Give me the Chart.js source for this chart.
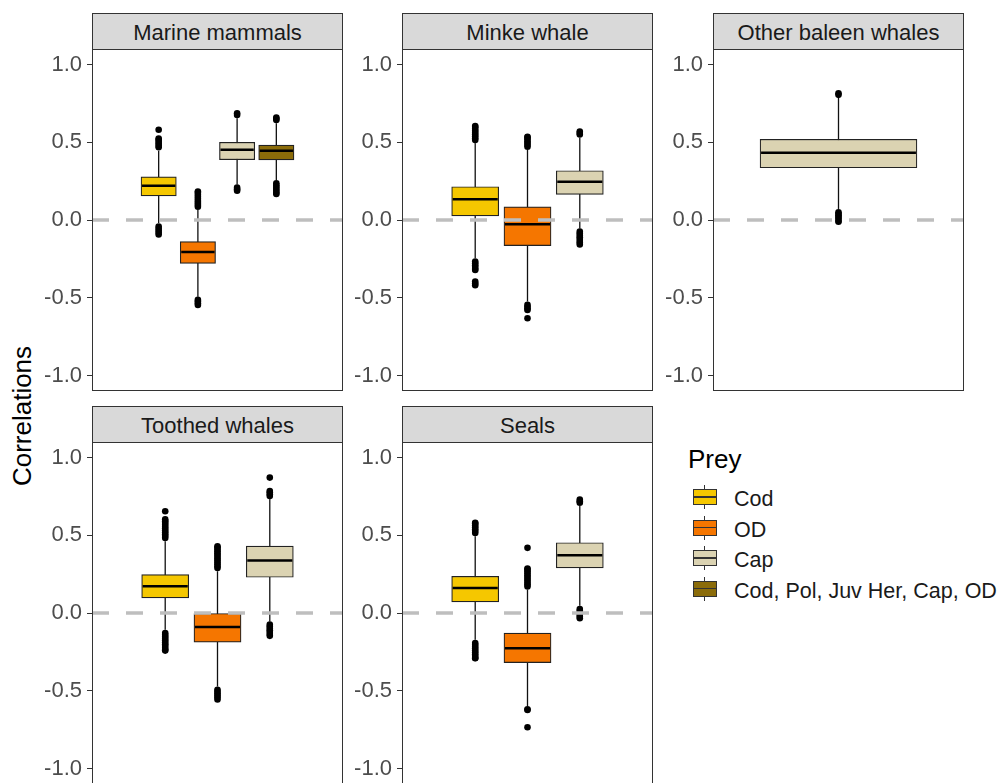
<!DOCTYPE html>
<html>
<head>
<meta charset="utf-8">
<title>Correlations by predator group and prey</title>
<script src="https://cdn.jsdelivr.net/npm/chart.js@4.4.1/dist/chart.umd.min.js"></script>
<style>
  html, body { margin: 0; padding: 0; background: #fff; }
  #page {
    position: relative; width: 1000px; height: 783px; overflow: hidden; background: #fff;
    font-family: 'Liberation Sans', Arial, sans-serif;
  }
  .strip {
    position: absolute; box-sizing: border-box; height: 37px;
    background: #d9d9d9; border: 1px solid #333; color: #1a1a1a;
    font-size: 22px; line-height: 32px; padding-top: 3px;
    text-align: center; white-space: nowrap;
  }
  canvas { position: absolute; }
  #ytitle {
    position: absolute; left: 22px; top: 416px; font-size: 26px; color: #000;
    transform: translate(-50%, -50%) rotate(-90deg); white-space: nowrap;
  }
  .legend-title { position: absolute; left: 688px; top: 446px; font-size: 26px; line-height: 26px; color: #000; }
  .legend-label { position: absolute; left: 734px; font-size: 21.5px; line-height: 22px; color: #1a1a1a; white-space: nowrap; }
  .key { position: absolute; left: 693px; width: 24px; height: 24px; }
  .key .stem { position: absolute; left: 11px; top: 0; width: 1px; height: 24px; background: #333; }
  .key .box { position: absolute; left: 0; top: 4px; width: 24px; height: 16px; box-sizing: border-box; border: 1px solid #333; }
  .key .mid { position: absolute; left: 0; right: 0; top: 6px; height: 1.5px; background: #333; }
</style>
</head>
<body>
<div id="page"><div id="ytitle">Correlations</div></div>
<script>
// ---- prey groups and their fills ----
const preyNames = ['Cod', 'OD', 'Cap', 'Cod, Pol, Juv Her, Cap, OD'];
const preyFills = ['#F5C700', '#F57600', '#DBD3B2', '#8B6C0A'];
const yTicks = [-1.0, -0.5, 0.0, 0.5, 1.0];

// ---- Marine mammals ----
const marinePrey = ['Cod', 'OD', 'Cap', 'Cod, Pol, Juv Her, Cap, OD'];
const marineLow  = [-0.020, -0.493, 0.229, 0.257];
const marineQ1   = [0.155, -0.279, 0.388, 0.386];
const marineMed  = [0.220, -0.206, 0.452, 0.446];
const marineQ3   = [0.278, -0.139, 0.500, 0.482];
const marineHigh = [0.445, 0.064, 0.654, 0.622];
const marineOut  = [
  [0.468, 0.480, 0.492, 0.504, 0.516, 0.524, 0.581, -0.042, -0.055, -0.068, -0.080, -0.093],
  [0.085, 0.097, 0.110, 0.123, 0.136, 0.149, 0.162, 0.175, 0.183, -0.514, -0.525, -0.536, -0.547],
  [0.675, 0.686, 0.208, 0.198, 0.188],
  [0.643, 0.651, 0.659, 0.236, 0.224, 0.212, 0.200, 0.188, 0.176, 0.167]
];

// ---- Minke whale ----
const minkePrey = ['Cod', 'OD', 'Cap'];
const minkeLow  = [-0.246, -0.525, -0.054];
const minkeQ1   = [0.026, -0.165, 0.165];
const minkeMed  = [0.133, -0.028, 0.246];
const minkeQ3   = [0.214, 0.084, 0.317];
const minkeHigh = [0.493, 0.450, 0.529];
const minkeOut  = [
  [0.514, 0.526, 0.538, 0.550, 0.562, 0.574, 0.586, 0.598, 0.605, -0.267, -0.279, -0.291, -0.303, -0.315, -0.322, -0.396, -0.408, -0.419],
  [0.471, 0.483, 0.495, 0.507, 0.519, 0.531, 0.536, -0.546, -0.558, -0.570, -0.579, -0.632],
  [0.550, 0.560, 0.569, -0.075, -0.087, -0.099, -0.111, -0.123, -0.135, -0.147, -0.157]
];

// ---- Other baleen whales ----
const baleenPrey = ['Cap'];
const baleenLow  = [0.071];
const baleenQ1   = [0.336];
const baleenMed  = [0.433];
const baleenQ3   = [0.519];
const baleenHigh = [0.789];
const baleenOut  = [
  [0.805, 0.815, 0.050, 0.040, 0.030, 0.020, 0.010, -0.005, -0.011]
];

// ---- Toothed whales ----
const toothedPrey = ['Cod', 'OD', 'Cap'];
const toothedLow  = [-0.108, -0.473, -0.054];
const toothedQ1   = [0.097, -0.187, 0.230];
const toothedMed  = [0.172, -0.090, 0.337];
const toothedQ3   = [0.247, 0.000, 0.430];
const toothedHigh = [0.462, 0.268, 0.731];
const toothedOut  = [
  [0.483, 0.495, 0.507, 0.519, 0.531, 0.543, 0.555, 0.567, 0.579, 0.591, 0.602, 0.655, -0.129, -0.141, -0.153, -0.165, -0.177, -0.189, -0.201, -0.213, -0.225, -0.237, -0.242],
  [0.289, 0.301, 0.313, 0.325, 0.337, 0.349, 0.361, 0.373, 0.385, 0.397, 0.409, 0.421, 0.429, -0.494, -0.506, -0.518, -0.530, -0.542, -0.556],
  [0.752, 0.764, 0.776, 0.785, 0.871, -0.075, -0.087, -0.099, -0.111, -0.123, -0.135, -0.147]
];

// ---- Seals ----
const sealsPrey = ['Cod', 'OD', 'Cap'];
const sealsLow  = [-0.172, -0.598, 0.047];
const sealsQ1   = [0.071, -0.319, 0.290];
const sealsMed  = [0.161, -0.226, 0.372];
const sealsQ3   = [0.236, -0.129, 0.452];
const sealsHigh = [0.494, 0.150, 0.688];
const sealsOut  = [
  [0.515, 0.527, 0.539, 0.551, 0.563, 0.575, 0.581, -0.193, -0.205, -0.217, -0.229, -0.241, -0.253, -0.265, -0.277, -0.289, -0.291],
  [0.171, 0.183, 0.195, 0.207, 0.219, 0.231, 0.243, 0.255, 0.267, 0.279, 0.286, 0.419, -0.619, -0.624, -0.735],
  [0.709, 0.719, 0.729, 0.026, 0.014, 0.002, -0.010, -0.022, -0.033]
];

// ---- facet layout ----
const FONT = "'Liberation Sans', Arial, sans-serif";
const COL_LEFT = [92, 402, 713];
const STRIP_TOP = [13, 406];
const STRIP_H = 36;
const PW = 251, PH = 342;
const AXIS_W = 80, PAD = 24;
const X_MIN = 0.4, X_MAX = 1.6, DODGE = 0.75;
const Y_MIN = -1.1, Y_MAX = 1.1;

const panels = [
  { title: 'Marine mammals', col: 0, row: 0, prey: marinePrey, low: marineLow, q1: marineQ1, med: marineMed, q3: marineQ3, high: marineHigh, out: marineOut },
  { title: 'Minke whale', col: 1, row: 0, prey: minkePrey, low: minkeLow, q1: minkeQ1, med: minkeMed, q3: minkeQ3, high: minkeHigh, out: minkeOut },
  { title: 'Other baleen whales', col: 2, row: 0, prey: baleenPrey, low: baleenLow, q1: baleenQ1, med: baleenMed, q3: baleenQ3, high: baleenHigh, out: baleenOut },
  { title: 'Toothed whales', col: 0, row: 1, prey: toothedPrey, low: toothedLow, q1: toothedQ1, med: toothedMed, q3: toothedQ3, high: toothedHigh, out: toothedOut },
  { title: 'Seals', col: 1, row: 1, prey: sealsPrey, low: sealsLow, q1: sealsQ1, med: sealsMed, q3: sealsQ3, high: sealsHigh, out: sealsOut }
];

Chart.defaults.font.family = FONT;

// panel border drawn around the plotting area
const panelFrame = {
  id: 'panelFrame',
  afterDraw(chart) {
    const a = chart.chartArea, c = chart.ctx;
    c.save();
    c.strokeStyle = '#333';
    c.lineWidth = 1;
    c.strokeRect(Math.round(a.left) + 0.5, Math.round(a.top) + 0.5,
                 Math.round(a.right - a.left) - 1, Math.round(a.bottom - a.top) - 1);
    c.restore();
  }
};

const page = document.getElementById('page');

function fillFor(name) { return preyFills[preyNames.indexOf(name)]; }

function drawPanel(p) {
  const left = COL_LEFT[p.col];
  const stripTop = STRIP_TOP[p.row];
  const plotTop = stripTop + STRIP_H;

  const strip = document.createElement('div');
  strip.className = 'strip';
  strip.style.left = left + 'px';
  strip.style.top = stripTop + 'px';
  strip.style.width = PW + 'px';
  strip.textContent = p.title;
  page.appendChild(strip);

  const cv = document.createElement('canvas');
  cv.width = AXIS_W + PW + PAD;
  cv.height = PH + 2 * PAD;
  cv.style.left = (left - AXIS_W) + 'px';
  cv.style.top = (plotTop - PAD) + 'px';
  page.appendChild(cv);

  // dodged positions of the boxes around the single x slot
  const n = p.prey.length;
  const slot = DODGE / n;
  const pos = p.prey.map((_, i) => 1 + (i - (n - 1) / 2) * slot);
  const boxW = slot * (PW / (X_MAX - X_MIN)) * (n > 1 ? 0.9 : 1);

  const whiskers = [];
  pos.forEach((x, i) => { whiskers.push({ x, y: p.low[i] }, { x, y: p.high[i] }, { x, y: null }); });
  const boxes = pos.map((x, i) => ({ x, y: [p.q1[i], p.q3[i]] }));
  const medians = pos.map((x, i) => ({ x, y: p.med[i] }));
  const outliers = [];
  pos.forEach((x, i) => p.out[i].forEach(v => outliers.push({ x, y: v })));

  new Chart(cv, {
    type: 'bar',
    data: {
      datasets: [
        { type: 'line', data: [{ x: X_MIN, y: 0 }, { x: X_MAX, y: 0 }], borderColor: '#bebebe', borderWidth: 3.5,
          borderDash: [17, 17], pointRadius: 0, order: 0 },
        { type: 'scatter', data: outliers, pointRadius: 3.3, pointBackgroundColor: '#000', pointBorderWidth: 0,
          borderWidth: 0, showLine: false, order: 1 },
        { type: 'scatter', data: medians, pointStyle: 'line', pointRadius: boxW / 2 - 1, pointBorderColor: '#000',
          borderColor: '#000', pointBorderWidth: 2.5, showLine: false, order: 2 },
        { type: 'bar', data: boxes, backgroundColor: p.prey.map(fillFor), borderColor: '#222', borderWidth: 1.2,
          borderSkipped: false, barThickness: boxW, order: 3 },
        { type: 'line', data: whiskers, borderColor: '#111', borderWidth: 1.3, pointRadius: 0, spanGaps: false, order: 4 }
      ]
    },
    options: {
      responsive: false,
      animation: false,
      devicePixelRatio: 1,
      events: [],
      layout: { autoPadding: false, padding: { top: PAD, bottom: PAD, left: 0, right: PAD } },
      plugins: { legend: { display: false }, tooltip: { enabled: false } },
      scales: {
        x: { type: 'linear', min: X_MIN, max: X_MAX, offset: false, display: false },
        y: {
          type: 'linear', min: Y_MIN, max: Y_MAX, stacked: false,
          afterBuildTicks: s => { s.ticks = yTicks.map(v => ({ value: v })); },
          afterFit: s => { s.width = AXIS_W; },
          ticks: { callback: v => Number(v).toFixed(1), color: '#4d4d4d', font: { size: 22, family: FONT }, padding: 5 },
          grid: { drawOnChartArea: false, drawTicks: true, tickLength: 5, color: '#333', lineWidth: 1 },
          border: { display: false }
        }
      }
    },
    plugins: [panelFrame]
  });
}

panels.forEach(drawPanel);

// ---- legend ----
const lt = document.createElement('div');
lt.className = 'legend-title';
lt.textContent = 'Prey';
page.appendChild(lt);
preyNames.forEach((name, i) => {
  const cy = 497 + 30.5 * i;
  const key = document.createElement('div');
  key.className = 'key';
  key.style.top = (cy - 12) + 'px';
  key.innerHTML = '<div class="stem"></div><div class="box" style="background:' + preyFills[i] + '"><div class="mid"></div></div>';
  page.appendChild(key);
  const lab = document.createElement('div');
  lab.className = 'legend-label';
  lab.style.top = (cy - 9) + 'px';
  lab.textContent = name;
  page.appendChild(lab);
});
</script>
</body>
</html>
